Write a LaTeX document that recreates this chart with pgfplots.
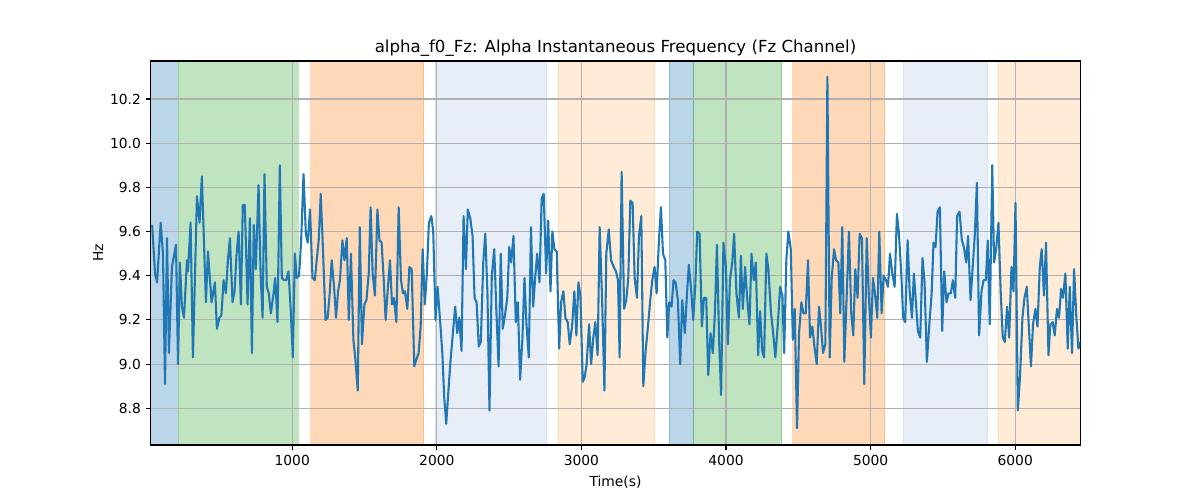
\documentclass[border=0pt]{standalone}
\usepackage{fontspec}
\setmainfont{DejaVu Sans}
\usepackage{pgfplots}
\pgfplotsset{compat=1.18}

\definecolor{tabblue}{HTML}{1F77B4}
\definecolor{tabgreen}{HTML}{2CA02C}
\definecolor{taborange}{HTML}{FF7F0E}
\definecolor{tablightblue}{HTML}{AEC7E8}
\definecolor{tablightorange}{HTML}{FFBB78}
\definecolor{spanblue}{HTML}{BCD6E9}
\definecolor{spangreen}{HTML}{C0E3C0}
\definecolor{spanorange}{HTML}{FFD9B7}
\definecolor{spanlightblue}{HTML}{E7EEF8}
\definecolor{spanlightorange}{HTML}{FFEBD6}
\definecolor{gridgray}{HTML}{B0B0B0}

\pgfplotsset{
  span/.style 2 args={fill=#1, draw=#2, draw opacity=0.3, line width=0.72bp, on layer=axis background},
}

\begin{document}
\begin{tikzpicture}
% 1 px of the 1200x500 reference = 0.72bp
\begin{axis}[
  at={(0,0)}, anchor=south west,
  set layers, clip mode=individual,
  scale only axis,
  width=669.3bp, height=276.5bp,
  xmin=21, xmax=6450, ymin=8.634, ymax=10.372,
  xtick={1000,2000,3000,4000,5000,6000},
  ytick={8.8,9.0,9.2,9.4,9.6,9.8,10.0,10.2},
  scaled x ticks=false,
  xticklabel style={/pgf/number format/.cd, set thousands separator={}},
  yticklabel style={/pgf/number format/.cd, fixed, fixed zerofill, precision=1},
  /pgf/number format/assume math mode=true,
  tick label style={font=\fontsize{10}{12}\selectfont},
  tick pos=left, tick align=outside,
  major tick length=3.5bp,
  every tick/.style={black, line width=0.8bp},
  axis line style={line width=0.8bp},
  grid=major,
  major grid style={gridgray, line width=0.8bp},
  every axis title shift=0pt,
  title={alpha\_f0\_Fz: Alpha Instantaneous Frequency (Fz Channel)},
  title style={font=\fontsize{12}{14}\selectfont, at={(axis description cs:0.5,1.0216)}, anchor=base},
  xlabel={Time(s)},
  xlabel style={font=\fontsize{10}{12}\selectfont, at={(axis description cs:0.5,-0.1068)}, anchor=base},
  ylabel={Hz},
  ylabel style={font=\fontsize{10}{12}\selectfont, at={(axis description cs:-0.0513,0.5)}, anchor=base},
]
% shaded segments
\addplot[span={spanblue}{tabblue}] coordinates {(0,8.5) (212,8.5) (212,10.5) (0,10.5)} --cycle;
\addplot[span={spangreen}{tabgreen}] coordinates {(212,8.5) (1040,8.5) (1040,10.5) (212,10.5)} --cycle;
\addplot[span={spanorange}{taborange}] coordinates {(1129,8.5) (1909,8.5) (1909,10.5) (1129,10.5)} --cycle;
\addplot[span={spanlightblue}{tablightblue}] coordinates {(1989,8.5) (2759,8.5) (2759,10.5) (1989,10.5)} --cycle;
\addplot[span={spanlightorange}{tablightorange}] coordinates {(2840,8.5) (3506,8.5) (3506,10.5) (2840,10.5)} --cycle;
\addplot[span={spanblue}{tabblue}] coordinates {(3608,8.5) (3778,8.5) (3778,10.5) (3608,10.5)} --cycle;
\addplot[span={spangreen}{tabgreen}] coordinates {(3778,8.5) (4385,8.5) (4385,10.5) (3778,10.5)} --cycle;
\addplot[span={spanorange}{taborange}] coordinates {(4463,8.5) (5097,8.5) (5097,10.5) (4463,10.5)} --cycle;
\addplot[span={spanlightblue}{tablightblue}] coordinates {(5226,8.5) (5809,8.5) (5809,10.5) (5226,10.5)} --cycle;
\addplot[span={spanlightorange}{tablightorange}] coordinates {(5881,8.5) (6500,8.5) (6500,10.5) (5881,10.5)} --cycle;

% alpha instantaneous frequency
\addplot[tabblue, line width=1.5bp, line join=round] coordinates {
(31,9.63) (51,9.41) (65,9.37) (90,9.64) (106,9.50) (120,8.91) (134,9.57) (147,9.05)
(168,9.44) (196,9.54) (210,9.00) (223,9.46) (237,9.26) (251,9.21) (272,9.47) (279,9.42)
(297,9.64) (313,9.03) (341,9.76) (359,9.64) (375,9.85) (403,9.28) (417,9.51) (442,9.28)
(465,9.37) (479,9.16) (496,9.21) (510,9.22) (525,9.38) (541,9.32) (555,9.47) (569,9.57)
(587,9.28) (601,9.33) (615,9.50) (629,9.60) (645,9.27) (658,9.72) (672,9.72) (691,9.27)
(707,9.66) (721,9.05) (734,9.63) (748,9.43) (767,9.81) (781,9.41) (795,9.21) (808,9.86)
(824,9.35) (838,9.32) (852,9.23) (871,9.32) (882,9.39) (898,9.19) (914,9.90) (928,9.39)
(942,9.38) (958,9.38) (974,9.42) (990,9.24) (1004,9.03) (1018,9.50) (1031,9.39) (1047,9.40)
(1061,9.55) (1078,9.86) (1094,9.59) (1107,9.55) (1123,9.70) (1140,9.39) (1156,9.38) (1172,9.49)
(1183,9.56) (1197,9.77) (1213,9.51) (1230,9.20) (1245,9.21) (1259,9.32) (1273,9.47) (1289,9.35)
(1303,9.21) (1317,9.33) (1330,9.38) (1347,9.56) (1361,9.47) (1377,9.57) (1391,9.20) (1406,9.50)
(1423,9.11) (1437,9.02) (1453,8.88) (1467,9.62) (1482,9.09) (1499,9.27) (1513,9.29) (1529,9.41)
(1542,9.71) (1556,9.41) (1572,9.31) (1589,9.70) (1603,9.56) (1618,9.55) (1632,9.39) (1646,9.20)
(1662,9.35) (1676,9.47) (1690,9.27) (1703,9.30) (1720,9.19) (1736,9.71) (1752,9.38) (1766,9.32)
(1779,9.33) (1796,9.25) (1810,9.44) (1826,9.43) (1844,8.99) (1858,9.02) (1874,9.05) (1888,9.17)
(1902,9.52) (1917,9.27) (1931,9.41) (1945,9.64) (1962,9.67) (1975,9.60) (1991,9.20) (2005,9.35)
(2021,9.21) (2038,9.05) (2051,8.85) (2065,8.73) (2079,8.87) (2095,9.02) (2111,9.14) (2127,9.26)
(2141,9.14) (2155,9.21) (2171,9.06) (2185,9.67) (2201,9.43) (2214,9.70) (2231,9.66) (2247,9.58)
(2261,9.30) (2275,9.28) (2290,9.08) (2304,9.10) (2321,9.46) (2335,9.59) (2350,9.32) (2364,8.79)
(2380,9.40) (2397,9.52) (2411,9.25) (2427,8.99) (2442,9.50) (2456,9.16) (2473,9.23) (2487,9.30)
(2501,9.53) (2514,9.46) (2530,9.58) (2546,9.19) (2560,9.28) (2576,8.93) (2592,9.12) (2606,9.39)
(2620,9.18) (2636,9.03) (2651,9.62) (2666,9.26) (2680,9.39) (2694,9.50) (2710,9.37) (2725,9.75)
(2739,9.77) (2756,9.41) (2770,9.65) (2786,9.33) (2799,9.60) (2813,9.52) (2829,9.51) (2846,9.07)
(2859,9.28) (2875,9.33) (2889,9.21) (2905,9.19) (2919,9.09) (2935,9.17) (2951,9.33) (2965,9.13)
(2979,9.37) (2993,9.31) (3009,8.92) (3022,8.94) (3036,9.00) (3053,9.18) (3067,9.00) (3082,9.12)
(3096,9.19) (3112,9.04) (3126,9.62) (3143,9.29) (3159,8.88) (3172,9.50) (3189,9.61) (3205,9.47)
(3223,9.44) (3239,9.42) (3253,9.38) (3264,9.03) (3278,9.87) (3295,9.25) (3310,9.29) (3324,9.39)
(3338,9.74) (3354,9.73) (3368,9.39) (3384,9.30) (3398,9.58) (3414,9.67) (3428,8.90) (3444,9.06)
(3460,9.17) (3476,9.29) (3490,9.38) (3506,9.44) (3520,9.32) (3536,9.56) (3550,9.71) (3564,9.50)
(3580,9.47) (3594,9.12) (3607,9.28) (3623,9.26) (3637,9.38) (3651,9.37) (3667,9.29) (3683,9.00)
(3697,9.29) (3715,9.14) (3730,9.32) (3743,9.45) (3757,9.35) (3773,9.20) (3787,9.35) (3801,9.60)
(3817,9.59) (3833,9.17) (3847,9.30) (3863,9.30) (3877,8.95) (3893,9.14) (3909,9.05) (3923,9.23)
(3937,9.54) (3953,9.09) (3966,8.86) (3982,9.55) (3999,9.44) (4013,9.09) (4027,9.38) (4043,9.46)
(4056,9.59) (4072,9.32) (4089,9.21) (4103,9.49) (4116,9.25) (4132,9.44) (4146,9.30) (4162,9.18)
(4176,9.50) (4192,9.38) (4206,9.46) (4222,9.04) (4236,9.24) (4250,9.06) (4263,9.03) (4279,9.50)
(4293,9.43) (4310,9.24) (4326,9.14) (4341,9.03) (4358,9.18) (4374,9.35) (4390,9.31) (4402,9.05)
(4417,9.47) (4431,9.60) (4448,9.52) (4462,9.11) (4475,9.25) (4491,8.71) (4505,9.14) (4521,9.28)
(4535,9.23) (4551,9.23) (4567,9.47) (4581,9.12) (4597,9.17) (4611,9.08) (4627,9.00) (4643,9.26)
(4657,9.17) (4671,9.05) (4687,9.09) (4701,10.30) (4717,9.03) (4731,9.39) (4747,9.52) (4761,9.47)
(4777,9.46) (4790,9.23) (4804,9.62) (4818,9.01) (4835,9.32) (4850,9.60) (4866,9.23) (4880,9.13)
(4894,9.43) (4910,9.30) (4924,9.59) (4940,9.57) (4956,8.91) (4973,9.57) (4987,9.32) (5002,9.12)
(5016,9.39) (5030,9.32) (5046,9.21) (5060,9.60) (5076,9.23) (5090,9.40) (5106,9.38) (5120,9.35)
(5134,9.50) (5150,9.41) (5166,9.35) (5182,9.68) (5196,9.59) (5212,9.41) (5225,9.21) (5239,9.19)
(5256,9.56) (5270,9.33) (5286,9.21) (5299,9.41) (5313,9.28) (5327,9.15) (5343,9.12) (5359,9.48)
(5373,9.37) (5389,9.01) (5405,9.17) (5422,9.32) (5435,9.55) (5449,9.53) (5463,9.69) (5479,9.71)
(5495,9.15) (5509,9.42) (5525,9.28) (5539,9.32) (5555,9.32) (5569,9.38) (5585,9.30) (5598,9.67)
(5615,9.69) (5631,9.56) (5645,9.53) (5661,9.46) (5674,9.58) (5691,9.29) (5705,9.43) (5721,9.59)
(5735,9.82) (5750,9.13) (5767,9.33) (5781,9.38) (5797,9.38) (5810,9.56) (5824,9.18) (5841,9.90)
(5854,9.46) (5868,9.52) (5884,9.64) (5900,9.32) (5914,9.12) (5928,9.10) (5944,9.26) (5958,9.12)
(5974,9.44) (5988,9.33) (6002,9.73) (6018,8.79) (6033,8.94) (6050,9.21) (6064,9.30) (6080,9.35)
(6094,9.17) (6109,8.99) (6123,9.18) (6140,9.25) (6154,9.17) (6170,9.44) (6183,9.52) (6199,9.31)
(6213,9.55) (6230,9.04) (6243,9.18) (6259,9.19) (6273,9.13) (6289,9.25) (6303,9.21) (6317,9.34)
(6330,9.30) (6347,9.41) (6363,9.07) (6377,9.35) (6393,9.05) (6407,9.43) (6423,9.21) (6437,9.07)
(6450,9.10)
};
\end{axis}
% page frame: the reference's 1200x500 px
\path (-108.5bp,-39.6bp) rectangle (755.5bp,320.4bp);
\end{tikzpicture}
\end{document}
